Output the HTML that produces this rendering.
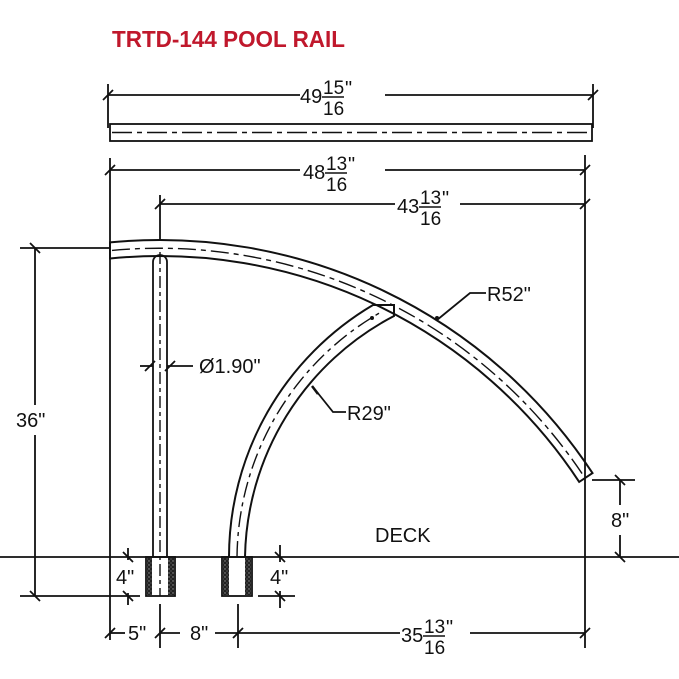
<!DOCTYPE html>
<html><head><style>
html,body{margin:0;padding:0;background:#fff}
svg{display:block}
text{font-family:"Liberation Sans",Arial,sans-serif;fill:#111}
</style></head><body>
<svg width="679" height="679" viewBox="0 0 679 679" xmlns="http://www.w3.org/2000/svg">
<defs>
<pattern id="h" width="4" height="4" patternUnits="userSpaceOnUse">
<rect width="4" height="4" fill="#222"/><circle cx="1" cy="1" r="0.7" fill="#999"/><circle cx="3" cy="3" r="0.6" fill="#777"/>
</pattern>
</defs>
<text x="112" y="47" font-size="23" font-weight="bold" style="fill:#c0182c" textLength="233" lengthAdjust="spacingAndGlyphs">TRTD-144 POOL RAIL</text>
<g stroke="#111" stroke-width="1.8" fill="none">
<line x1="108" y1="84" x2="108" y2="128"/><line x1="593" y1="84" x2="593" y2="128"/>
<line x1="108" y1="95" x2="300" y2="95"/><line x1="385" y1="95" x2="593" y2="95"/>
<line x1="103" y1="100" x2="113" y2="90"/><line x1="588" y1="100" x2="598" y2="90"/>
<rect x="110" y="124" width="482" height="17"/>
<line x1="112" y1="132.5" x2="590" y2="132.5" stroke-dasharray="20,5,5,5" stroke-width="1.4"/>
<line x1="110" y1="158" x2="110" y2="640"/><line x1="585" y1="155" x2="585" y2="648"/>
<line x1="110" y1="170" x2="300" y2="170"/><line x1="385" y1="170" x2="585" y2="170"/>
<line x1="105" y1="175" x2="115" y2="165"/><line x1="580" y1="175" x2="590" y2="165"/>
<line x1="160" y1="195" x2="160" y2="240"/>
<line x1="160" y1="204" x2="395" y2="204"/><line x1="460" y1="204" x2="585" y2="204"/>
<line x1="155" y1="209" x2="165" y2="199"/><line x1="580" y1="209" x2="590" y2="199"/>
<path d="M110 242.4 A518 518 0 0 1 592.5 473.1 L579.2 481.9 A502 502 0 0 0 110 258.5 Z" stroke-width="2"/>
<path d="M112 250.4 A510 510 0 0 1 585 478" stroke-dasharray="18,5,5,5" stroke-width="1.4"/>
<line x1="153" y1="262" x2="153" y2="557"/><line x1="167" y1="262" x2="167" y2="557"/>
<path d="M153 262 A7 7 0 0 1 167 262"/>
<line x1="160" y1="252" x2="160" y2="596" stroke-dasharray="12,4,4,4" stroke-width="1.4"/>
<path d="M229 557 A293 293 0 0 1 373 305 L394 305 L394 316 A277 277 0 0 0 245 557" stroke-width="2"/>
<path d="M237 557 A285 285 0 0 1 383 311" stroke-dasharray="16,5,4,5" stroke-width="1.4"/>
<line x1="0" y1="557" x2="679" y2="557"/>
<rect x="146" y="557" width="29" height="39"/>
<rect x="222" y="557" width="30" height="39"/>
<line x1="20" y1="248" x2="110" y2="248"/><line x1="20" y1="596" x2="140" y2="596"/>
<line x1="35" y1="248" x2="35" y2="405"/><line x1="35" y1="435" x2="35" y2="596"/>
<line x1="30" y1="243" x2="40" y2="253"/><line x1="30" y1="591" x2="40" y2="601"/>
<line x1="128" y1="548" x2="128" y2="560"/><line x1="128" y1="593" x2="128" y2="605"/>
<line x1="123" y1="552" x2="133" y2="562"/><line x1="123" y1="591" x2="133" y2="601"/>
<line x1="280" y1="545" x2="280" y2="562"/><line x1="280" y1="591" x2="280" y2="608"/>
<line x1="275" y1="552" x2="285" y2="562"/><line x1="275" y1="591" x2="285" y2="601"/>
<line x1="258" y1="596" x2="295" y2="596"/>
<line x1="592" y1="480" x2="635" y2="480"/>
<line x1="620" y1="480" x2="620" y2="505"/><line x1="620" y1="535" x2="620" y2="557"/>
<line x1="615" y1="475" x2="625" y2="485"/><line x1="615" y1="552" x2="625" y2="562"/>
<line x1="160" y1="604" x2="160" y2="648"/><line x1="238" y1="604" x2="238" y2="648"/>
<line x1="110" y1="633" x2="125" y2="633"/><line x1="160" y1="633" x2="180" y2="633"/>
<line x1="215" y1="633" x2="238" y2="633"/><line x1="238" y1="633" x2="400" y2="633"/><line x1="470" y1="633" x2="585" y2="633"/>
<line x1="105" y1="638" x2="115" y2="628"/><line x1="155" y1="638" x2="165" y2="628"/>
<line x1="233" y1="638" x2="243" y2="628"/><line x1="580" y1="638" x2="590" y2="628"/>
<line x1="140" y1="366" x2="153" y2="366"/><line x1="167" y1="366" x2="193" y2="366"/>
<line x1="145" y1="371" x2="155" y2="361"/><line x1="165" y1="371" x2="175" y2="361"/>
<polyline points="437,320 470,293 486,293"/>
<polyline points="313,387 333,412 346,412"/>
</g>
<g fill="url(#h)">
<rect x="147" y="558" width="5" height="37"/><rect x="168" y="558" width="6" height="37"/>
<rect x="223" y="558" width="6" height="37"/><rect x="245" y="558" width="6" height="37"/>
</g>
<circle cx="437" cy="318" r="2" fill="#111"/><circle cx="372" cy="318" r="2" fill="#111"/>
<line x1="312" y1="386" x2="318" y2="394" stroke="#111" stroke-width="2.5"/>
<g font-size="20">
<text x="300" y="103">49</text><text x="323" y="94" font-size="19">15</text><line x1="322" y1="97" x2="344" y2="97" stroke="#111" stroke-width="1.6"/><text x="323" y="115" font-size="19">16</text><text x="345" y="95">"</text>
<text x="303" y="179">48</text><text x="326" y="170" font-size="19">13</text><line x1="325" y1="173" x2="347" y2="173" stroke="#111" stroke-width="1.6"/><text x="326" y="191" font-size="19">16</text><text x="348" y="171">"</text>
<text x="397" y="213">43</text><text x="420" y="204" font-size="19">13</text><line x1="419" y1="207" x2="441" y2="207" stroke="#111" stroke-width="1.6"/><text x="420" y="225" font-size="19">16</text><text x="442" y="205">"</text>
<text x="401" y="642">35</text><text x="424" y="633" font-size="19">13</text><line x1="423" y1="636" x2="445" y2="636" stroke="#111" stroke-width="1.6"/><text x="424" y="654" font-size="19">16</text><text x="446" y="634">"</text>
<text x="16" y="427">36"</text>
<text x="199" y="373">Ø1.90"</text>
<text x="487" y="301">R52"</text>
<text x="347" y="420">R29"</text>
<text x="375" y="542">DECK</text>
<text x="116" y="584">4"</text>
<text x="270" y="584">4"</text>
<text x="611" y="527">8"</text>
<text x="128" y="640">5"</text>
<text x="190" y="640">8"</text>
</g>
</svg>
</body></html>
